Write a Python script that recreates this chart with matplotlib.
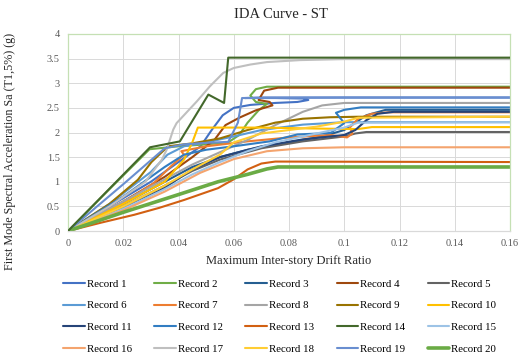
import matplotlib
matplotlib.use("Agg")
import matplotlib.pyplot as plt

# drift ratio (x) and Sa (y) for each record
drift_01 = [0, 0.015, 0.03, 0.04, 0.048, 0.052, 0.056, 0.060, 0.066, 0.075, 0.083, 0.087, 0.085, 0.075, 0.064, 0.07, 0.1, 0.16]
sa_01 = [0, 0.50, 1.00, 1.40, 1.72, 2.05, 2.35, 2.50, 2.56, 2.60, 2.62, 2.66, 2.69, 2.70, 2.70, 2.71, 2.71, 2.71]
drift_02 = [0, 0.015, 0.0295, 0.04, 0.05, 0.058, 0.062, 0.065, 0.069, 0.072, 0.068, 0.066, 0.068, 0.072, 0.16]
sa_02 = [0, 0.85, 1.66, 1.72, 1.76, 1.80, 1.95, 2.20, 2.45, 2.58, 2.62, 2.75, 2.88, 2.93, 2.93]
drift_03 = [0, 0.02, 0.035, 0.045, 0.055, 0.065, 0.075, 0.085, 0.092, 0.1, 0.108, 0.115, 0.16]
sa_03 = [0, 0.55, 1.0, 1.3, 1.5, 1.65, 1.75, 1.85, 1.92, 2.05, 2.35, 2.46, 2.46]
drift_04 = [0, 0.02, 0.035, 0.045, 0.053, 0.057, 0.062, 0.068, 0.074, 0.073, 0.069, 0.071, 0.076, 0.16]
sa_04 = [0, 0.6, 1.1, 1.5, 1.85, 2.15, 2.3, 2.45, 2.55, 2.62, 2.66, 2.85, 2.91, 2.91]
drift_05 = [0, 0.02, 0.035, 0.045, 0.055, 0.07, 0.085, 0.1, 0.104, 0.108, 0.16]
sa_05 = [0, 0.5, 0.92, 1.22, 1.45, 1.68, 1.82, 1.92, 1.98, 2.01, 2.01]
drift_06 = [0, 0.015, 0.03, 0.036, 0.042, 0.05, 0.06, 0.07, 0.085, 0.1, 0.16]
sa_06 = [0, 0.55, 1.2, 1.55, 1.72, 1.8, 1.92, 2.05, 2.16, 2.21, 2.21]
drift_07 = [0, 0.015, 0.031, 0.037, 0.042, 0.041, 0.05, 0.065, 0.08, 0.095, 0.101, 0.103, 0.102, 0.105, 0.11, 0.116, 0.16]
sa_07 = [0, 0.4, 0.97, 1.3, 1.55, 1.62, 1.72, 1.82, 1.9, 1.95, 1.9, 1.98, 2.1, 2.28, 2.38, 2.41, 2.41]
drift_08 = [0, 0.02, 0.035, 0.045, 0.055, 0.065, 0.075, 0.085, 0.092, 0.1, 0.16]
sa_08 = [0, 0.6, 1.05, 1.35, 1.6, 1.85, 2.15, 2.42, 2.55, 2.60, 2.60]
drift_09 = [0, 0.015, 0.0253, 0.0302, 0.0362, 0.045, 0.055, 0.065, 0.075, 0.085, 0.095, 0.105, 0.16]
sa_09 = [0, 0.55, 1.04, 1.4, 1.72, 1.78, 1.88, 2.05, 2.2, 2.28, 2.31, 2.32, 2.32]
drift_10 = [0, 0.02, 0.035, 0.042, 0.045, 0.047, 0.07, 0.09, 0.105, 0.11, 0.16]
sa_10 = [0, 0.55, 1.0, 1.45, 1.8, 2.1, 2.1, 2.08, 2.07, 2.11, 2.11]
drift_11 = [0, 0.02, 0.035, 0.045, 0.055, 0.07, 0.085, 0.1, 0.104, 0.108, 0.112, 0.118, 0.16]
sa_11 = [0, 0.45, 0.88, 1.25, 1.5, 1.72, 1.86, 1.95, 2.05, 2.25, 2.38, 2.42, 2.42]
drift_12 = [0, 0.02, 0.035, 0.042, 0.05, 0.06, 0.073, 0.083, 0.095, 0.1, 0.097, 0.1, 0.106, 0.16]
sa_12 = [0, 0.7, 1.3, 1.55, 1.65, 1.72, 1.82, 1.96, 1.99, 2.19, 2.4, 2.46, 2.51, 2.51]
drift_13 = [0, 0.012, 0.024, 0.033, 0.042, 0.0543, 0.06, 0.065, 0.07, 0.075, 0.16]
sa_13 = [0, 0.17, 0.33, 0.47, 0.63, 0.87, 1.05, 1.25, 1.37, 1.41, 1.40]
drift_14 = [0, 0.0297, 0.0405, 0.0508, 0.0565, 0.058, 0.16]
sa_14 = [0, 1.70, 1.82, 2.77, 2.60, 3.52, 3.52]
drift_15 = [0, 0.02, 0.035, 0.045, 0.055, 0.065, 0.075, 0.09, 0.1, 0.105, 0.16]
sa_15 = [0, 0.45, 0.85, 1.15, 1.4, 1.62, 1.8, 1.98, 2.1, 2.2, 2.21]
drift_16 = [0, 0.02, 0.035, 0.0478, 0.06, 0.072, 0.085, 0.1, 0.16]
sa_16 = [0, 0.42, 0.8, 1.18, 1.46, 1.62, 1.68, 1.70, 1.70]
drift_17 = [0, 0.015, 0.028, 0.034, 0.0357, 0.0381, 0.0393, 0.0466, 0.0514, 0.0562, 0.06, 0.066, 0.072, 0.084, 0.1, 0.16]
sa_17 = [0, 0.5, 1.0, 1.45, 1.65, 2.06, 2.19, 2.63, 2.94, 3.21, 3.31, 3.38, 3.43, 3.47, 3.49, 3.49]
drift_18 = [0, 0.02, 0.035, 0.045, 0.055, 0.06, 0.07, 0.08, 0.09, 0.1, 0.105, 0.16]
sa_18 = [0, 0.5, 0.92, 1.25, 1.55, 1.8, 1.98, 2.05, 2.12, 2.22, 2.3, 2.32]
drift_19 = [0, 0.02, 0.035, 0.042, 0.05, 0.058, 0.0615, 0.063, 0.1, 0.16]
sa_19 = [0, 0.95, 1.68, 1.76, 1.79, 1.81, 2.2, 2.70, 2.71, 2.71]
drift_20 = [0, 0.02, 0.04, 0.0543, 0.065, 0.072, 0.076, 0.16]
sa_20 = [0, 0.38, 0.74, 1.0, 1.15, 1.26, 1.30, 1.30]

labels = ["Record %d" % i for i in range(1, 21)]
colors = ["#4472C4", "#70AD47", "#255E91", "#9E480E", "#636363",
          "#5B9BD5", "#ED7D31", "#A5A5A5", "#997300", "#FFC000",
          "#264478", "#327DC2", "#D26012", "#43682B", "#9DC3E6",
          "#F4A46E", "#BFBFBF", "#FFCD33", "#698ED0", "#6AAB45"]

drifts = [drift_01, drift_02, drift_03, drift_04, drift_05, drift_06, drift_07,
          drift_08, drift_09, drift_10, drift_11, drift_12, drift_13, drift_14,
          drift_15, drift_16, drift_17, drift_18, drift_19, drift_20]
sas = [sa_01, sa_02, sa_03, sa_04, sa_05, sa_06, sa_07, sa_08, sa_09, sa_10,
       sa_11, sa_12, sa_13, sa_14, sa_15, sa_16, sa_17, sa_18, sa_19, sa_20]

plt.rcParams['font.family'] = ['Liberation Serif', 'DejaVu Serif']

fig = plt.figure(figsize=(5.24, 3.56), dpi=100)
ax = fig.add_axes([0.1298, 0.3511, 0.8435, 0.5534])

handles = []
for i in range(20):
    lw = 2.6 if i == 19 else 1.5
    z = 3 if i == 13 else 2
    h, = ax.plot(drifts[i], sas[i], color=colors[i], lw=lw, label=labels[i],
                 zorder=z, solid_capstyle='round', solid_joinstyle='round')
    handles.append(h)

ax.set_xlim(0, 0.16)
ax.set_ylim(0, 4)
ax.set_xticks([0, 0.02, 0.04, 0.06, 0.08, 0.1, 0.12, 0.14, 0.16])
ax.set_xticklabels(["0", "0.02", "0.04", "0.06", "0.08", "0.1", "0.12", "0.14", "0.16"])
ax.set_yticks([0, 0.5, 1, 1.5, 2, 2.5, 3, 3.5, 4])
ax.set_yticklabels(["0", "0.5", "1", "1.5", "2", "2.5", "3", "3.5", "4"])
ax.tick_params(length=0, labelsize=7.5, labelcolor="#595959", pad=6)
ax.grid(True, color="#D9D9D9", lw=0.7)
ax.set_axisbelow(True)
for s in ax.spines.values():
    s.set_color("#C5E0B4")
    s.set_linewidth(0.9)
ax.spines['bottom'].set_color("#D9D9D9")

fig.text(0.536, 1 - 14 / 356, "IDA Curve - ST", ha="center", va="center",
         fontsize=10.5, color="#262626")
fig.text(289 / 524, 1 - 261 / 356, "Maximum Inter-story Drift Ratio",
         ha="center", va="center", fontsize=9, color="#262626")
fig.text(10 / 524, 1 - 151 / 356, "First Mode Spectral Acceleration Sa (T1,5%) (g)",
         ha="center", va="center", rotation=90, fontsize=8.7, color="#262626")

# legend filled row by row like the reference
order = [r * 5 + c for c in range(5) for r in range(4)]
fig.legend([handles[k] for k in order], [labels[k] for k in order],
           ncol=5, loc="upper left", bbox_to_anchor=(63 / 524, 1 - 279 / 356),
           frameon=False, fontsize=7.8, handlelength=2.0, handletextpad=0.2,
           columnspacing=2.05, labelspacing=1.12, borderpad=0, borderaxespad=0)

fig.savefig("out.png", dpi=100)
